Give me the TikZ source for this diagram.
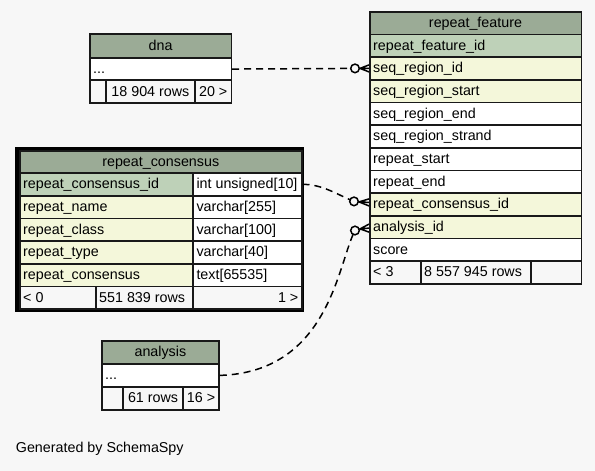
\documentclass[tikz,border=0pt]{standalone}
\usepackage{fontspec}
\setmainfont{Liberation Sans}
\usetikzlibrary{calc}
\definecolor{bg}{HTML}{F7F7F7}
\definecolor{hdr}{HTML}{9BAB96}
\definecolor{pk}{HTML}{BED1B8}
\definecolor{fkc}{HTML}{F4F7DA}
\tikzset{
 cellst/.style={draw=black!90, line width=1.5pt, inner sep=0pt, anchor=north west},
 txt/.style={inner sep=0pt, text height=11pt, text depth=2pt, font=\fontsize{14.3}{17}\selectfont},
 plain/.style={inner sep=0pt, font=\fontsize{14.3}{17}\selectfont},
 rel/.style={draw=black, line width=1.5pt, dash pattern=on 7pt off 5pt},
 crow/.style={draw=black, line width=1.5pt},
 odot/.style={circle, draw=black, line width=1.5pt, fill=bg, minimum size=8.6pt, inner sep=0pt},
}
\newcommand\cell[8]{%
 \node[cellst, fill=#6, minimum width=#4pt, minimum height=#5pt] (#1) at (#2,#3) {};
 \if l#7\node[txt, anchor=west] (#1t) at ([xshift=4pt]#1.west) {#8};\fi
 \if c#7\node[txt] (#1t) at (#1.center) {#8};\fi
 \if r#7\node[txt, anchor=east] (#1t) at ([xshift=-4pt]#1.east) {#8};\fi
}
\begin{document}
\begin{tikzpicture}[x=1pt,y=-1pt]
\fill[bg] (0,0) rectangle (595,471);
\useasboundingbox (0,0) rectangle (595,471);

% repeat_feature
\cell{rfH}{369}{11}{211.5}{22.7}{hdr}{c}{repeat\_feature}
\cell{rfId}{369}{33.7}{211.5}{22.6}{pk}{l}{repeat\_feature\_id}
\cell{rfSeq}{369}{56.3}{211.5}{22.7}{fkc}{l}{seq\_region\_id}
\cell{rfSS}{369}{79}{211.5}{22.7}{fkc}{l}{seq\_region\_start}
\cell{rfSE}{369}{101.7}{211.5}{22.6}{white}{l}{seq\_region\_end}
\cell{rfSt}{369}{124.3}{211.5}{22.7}{white}{l}{seq\_region\_strand}
\cell{rfRS}{369}{147}{211.5}{22.7}{white}{l}{repeat\_start}
\cell{rfRE}{369}{169.7}{211.5}{22.6}{white}{l}{repeat\_end}
\cell{rfRc}{369}{192.3}{211.5}{22.7}{fkc}{l}{repeat\_consensus\_id}
\cell{rfAn}{369}{215}{211.5}{22.7}{fkc}{l}{analysis\_id}
\cell{rfSc}{369}{237.7}{211.5}{22.6}{white}{l}{score}
\cell{rfF1}{369}{260.3}{51}{22.7}{bg}{l}{< 3}
\cell{rfF2}{420}{260.3}{110}{22.7}{bg}{l}{8 557 945 rows}
\cell{rfF3}{530}{260.3}{50.5}{22.7}{bg}{n}{}

% dna
\cell{dnaH}{89}{33.3}{141.7}{24}{hdr}{c}{dna}
\cell{dnaDots}{89}{57.3}{141.7}{22}{white}{l}{...}
\cell{dnaF1}{89}{79.3}{16}{23}{bg}{n}{}
\cell{dnaF2}{105}{79.3}{89.3}{23}{bg}{c}{18 904 rows}
\cell{dnaF3}{194.3}{79.3}{36.4}{23}{bg}{c}{20 >}

% repeat_consensus
\draw[line width=4pt, black] (17,148.7) rectangle (302,310.3);
\cell{rcH}{19}{150}{282}{22.3}{hdr}{c}{repeat\_consensus}
\cell{rcIdN}{19}{172.3}{173.3}{22.7}{pk}{l}{repeat\_consensus\_id}
\cell{rcIdT}{192.3}{172.3}{108.7}{22.7}{white}{l}{int unsigned[10]}
\cell{rcNmN}{19}{195}{173.3}{22.7}{fkc}{l}{repeat\_name}
\cell{rcNmT}{192.3}{195}{108.7}{22.7}{white}{l}{varchar[255]}
\cell{rcClN}{19}{217.7}{173.3}{22.6}{fkc}{l}{repeat\_class}
\cell{rcClT}{192.3}{217.7}{108.7}{22.6}{white}{l}{varchar[100]}
\cell{rcTyN}{19}{240.3}{173.3}{22.7}{fkc}{l}{repeat\_type}
\cell{rcTyT}{192.3}{240.3}{108.7}{22.7}{white}{l}{varchar[40]}
\cell{rcCoN}{19}{263}{173.3}{22.7}{fkc}{l}{repeat\_consensus}
\cell{rcCoT}{192.3}{263}{108.7}{22.7}{white}{l}{text[65535]}
\cell{rcF1}{19}{285.7}{76}{22.6}{bg}{l}{< 0}
\cell{rcF2}{95}{285.7}{97.3}{22.6}{bg}{l}{551 839 rows}
\cell{rcF3}{192.3}{285.7}{108.7}{22.6}{bg}{r}{1 >}

% analysis
\cell{anH}{101}{340}{117.3}{23.3}{hdr}{c}{analysis}
\cell{anDots}{101}{363.3}{117.3}{22.7}{white}{l}{...}
\cell{anF1}{101}{386}{21.3}{23.3}{bg}{n}{}
\cell{anF2}{122.3}{386}{60}{23.3}{bg}{c}{61 rows}
\cell{anF3}{182.3}{386}{36}{23.3}{bg}{c}{16 >}

% relationships
\coordinate (c1) at ($(rfSeq.west)+(-14,0)$);
\coordinate (c2) at ($(rfRc.west)+(-15,-3)$);
\coordinate (c3) at ($(rfAn.west)+(-14,3.4)$);
\draw[rel] (dnaDots.east) -- (c1);
\draw[rel] (rcIdT.east) .. controls (322,184) and (338,195) .. (c2);
\draw[rel] (anDots.east) .. controls (330,372) and (338,262) .. (c3);
\draw[crow] ($(rfSeq.west)+(0,-3.5)$) -- ($(rfSeq.west)+(-9,0)$) -- ($(rfSeq.west)+(0,3.5)$)
  ($(rfSeq.west)+(-9,0)$) -- (rfSeq.west);
\draw[crow] ($(rfRc.west)+(0,-5.5)$) -- ($(rfRc.west)+(-10,-2.5)$) -- ($(rfRc.west)+(0,1.5)$)
  ($(rfRc.west)+(-10,-2.5)$) -- ($(rfRc.west)+(0,-2)$);
\draw[crow] ($(rfAn.west)+(0,-3)$) -- ($(rfAn.west)+(-9,1.8)$) -- ($(rfAn.west)+(0,5)$)
  ($(rfAn.west)+(-9,1.8)$) -- ($(rfAn.west)+(0,1)$);
\node[odot] (o1) at (c1) {};
\node[odot] (o2) at (c2) {};
\node[odot] (o3) at (c3) {};

\node[plain, anchor=base west] (gen) at (15.7,452.3) {Generated by SchemaSpy};
\end{tikzpicture}
\end{document}
